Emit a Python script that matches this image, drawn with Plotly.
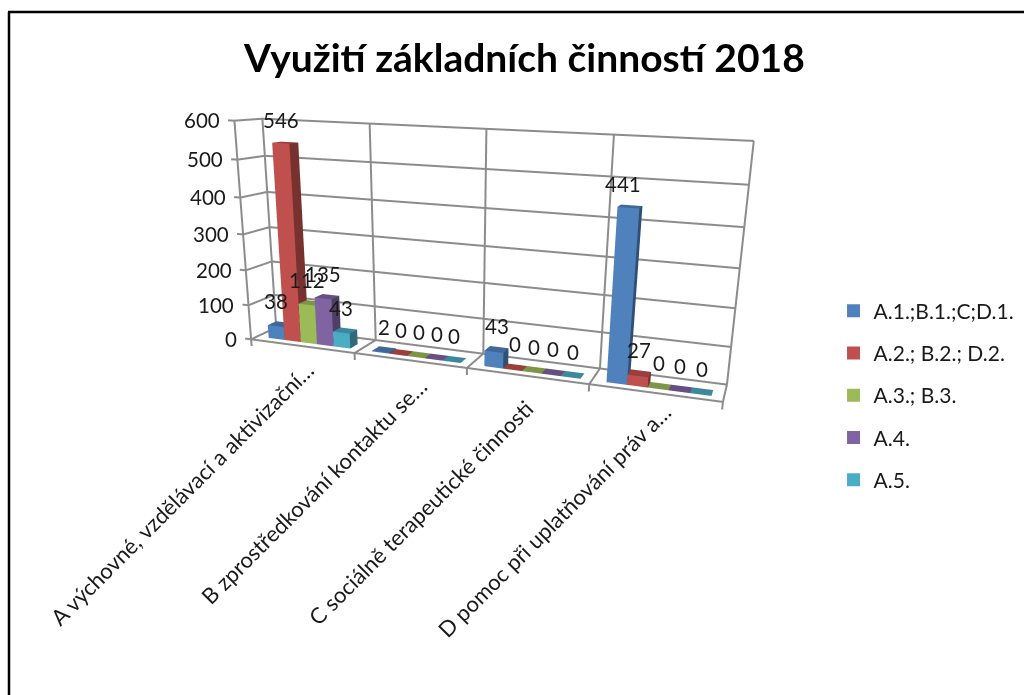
import plotly.graph_objects as go

categories = ["A výchovné, vzdělávací a aktivizační…", "B zprostředkování kontaktu se…",
              "C sociálně terapeutické činnosti", "D pomoc při uplatňování práv a…"]
series_names = ["A.1.;B.1.;C;D.1.", "A.2.; B.2.; D.2.", "A.3.; B.3.", "A.4.", "A.5."]
s1 = [38, 2, 43, 441]
s2 = [546, 0, 0, 27]
s3 = [112, 0, 0, 0]
s4 = [135, 0, 0, 0]
s5 = [43, 0, 0, 0]
colors = ["#4F81BD", "#C0504D", "#9BBB59", "#8064A2", "#4BACC6"]
z_ticks = [0, 100, 200, 300, 400, 500, 600]

RX = [-0.06, 4.02]; RY = [-0.02, 1.02]; RZ = [-20.0, 604.0]
W, H = 1024, 695
eye = (1.0816, -2.9247, 0.6455); cen = (0.1288, 0.0964, -0.3871)
asp = (1.9520, 0.1922, 0.9122); upx = -0.0251

fig = go.Figure()
vals=[s1,s2,s3,s4,s5]
def shade(h,k):
    return "#%02x%02x%02x"%tuple(int(int(h[i:i+2],16)*k) for i in (1,3,5))
gapl,gapr=.115,.09; bw=(1-gapl-gapr)/5; y0,y1=.24,.58
for si,(name,col) in enumerate(zip(series_names,colors)):
    X=[];Y=[];Z=[];I=[];J=[];K=[];FC=[]
    for c,v in enumerate(vals[si]):
        x0=c+gapl+si*bw;x1=x0+bw;b=len(X)
        for zz in (0,v):
            for (xx,yy) in ((x0,y0),(x1,y0),(x1,y1),(x0,y1)):
                X.append(xx);Y.append(yy);Z.append(zz)
        faces=[((0,1,5),1),((0,5,4),1),((1,2,6),.62),((1,6,5),.62),((4,5,6),.8),((4,6,7),.8)]
        for (a,bb,cc),k in faces:
            I.append(b+a);J.append(b+bb);K.append(b+cc);FC.append(shade(col,k))
    fig.add_trace(go.Mesh3d(x=X,y=Y,z=Z,i=I,j=J,k=K,facecolor=FC,flatshading=True,showlegend=False,hoverinfo="skip",
        lighting=dict(ambient=1,diffuse=0,specular=0,roughness=1,fresnel=0)))
    fig.add_trace(go.Scatter3d(x=[None],y=[None],z=[None],mode="markers",name=name,legendgroup=name,
        marker=dict(symbol="square",size=13,color=col)))
lx=[];ly=[];lz=[]
def seg(a,b):
    lx.extend([a[0],b[0],None]);ly.extend([a[1],b[1],None]);lz.extend([a[2],b[2],None])
for t in z_ticks:
    seg((RX[0],0,t),(0,0,t));seg((0,0,t),(0,1,t));seg((0,1,t),(4,1,t))
seg((4,1,0),(4,1,600))
for c in range(5):
    seg((c,1,0),(c,1,600));seg((c,1,0),(c,0,0));seg((c,0,0),(c,0,RZ[0]))
seg((0,0,0),(4,0,0));seg((0,0,0),(0,0,600))
fig.add_trace(go.Scatter3d(x=lx,y=ly,z=lz,mode="lines",line=dict(color="#8c8c8c",width=4),showlegend=False,hoverinfo="skip"))

ann=[]
FS=20.5; TC="#1a1a1a"
for t in z_ticks:
    ann.append(dict(x=RX[0],y=0,z=t,text=str(t),showarrow=False,xanchor="right",yanchor="middle",xshift=-6,font=dict(size=FS,color=TC,family="Lato")))
cat_dx=[20,26,15,25]; cat_dy=[-1,-2,-9,5]
for c,cat in enumerate(categories):
    ann.append(dict(x=c+.5,y=0,z=RZ[0],text=cat,showarrow=False,textangle=-45,xanchor="right",yanchor="top",xshift=cat_dx[c],yshift=cat_dy[c],font=dict(size=22,color=TC,family="Lato")))
for si in range(5):
    for c,v in enumerate(vals[si]):
        dx = -4 if c==0 else (-7 if (c==3 and si==0) else 0)
        ann.append(dict(x=c+gapl+(si+.5)*bw,y=.41,z=v,text=str(v),showarrow=False,yanchor="bottom",yshift=9,xshift=dx,font=dict(size=FS,color=TC,family="Lato")))
fig.update_layout(width=W,height=H,margin=dict(l=0,r=0,t=0,b=0),paper_bgcolor="white",
    scene=dict(domain=dict(x=[0,1],y=[0,1]),dragmode="orbit",
        xaxis=dict(visible=False,range=RX),yaxis=dict(visible=False,range=RY),zaxis=dict(visible=False,range=RZ),
        aspectmode="manual",aspectratio=dict(x=asp[0],y=asp[1],z=asp[2]),
        camera=dict(eye=dict(x=eye[0],y=eye[1],z=eye[2]),center=dict(x=cen[0],y=cen[1],z=cen[2]),up=dict(x=upx,y=0,z=1),projection=dict(type="perspective")),
        annotations=ann),
    legend=dict(x=0.814,y=0.582,xanchor="left",yanchor="top",tracegroupgap=12,font=dict(size=21,color=TC,family="Lato"),bgcolor="rgba(0,0,0,0)"),
    annotations=[dict(x=524/W,y=1-57/H,xref="paper",yref="paper",text="<b>Využití základních činností 2018</b>",showarrow=False,yanchor="middle",font=dict(size=39,color="#000",family="Lato"))],
    shapes=[dict(type="line",xref="paper",yref="paper",x0=9/W,x1=9/W,y0=0,y1=1-12/H,line=dict(color="#000",width=2.5)),
            dict(type="line",xref="paper",yref="paper",x0=8/W,x1=1,y0=1-12/H,y1=1-12/H,line=dict(color="#000",width=2.5))])
fig.write_html("out.html",config=dict(displayModeBar=False),post_script="document.body.style.margin='0';")
